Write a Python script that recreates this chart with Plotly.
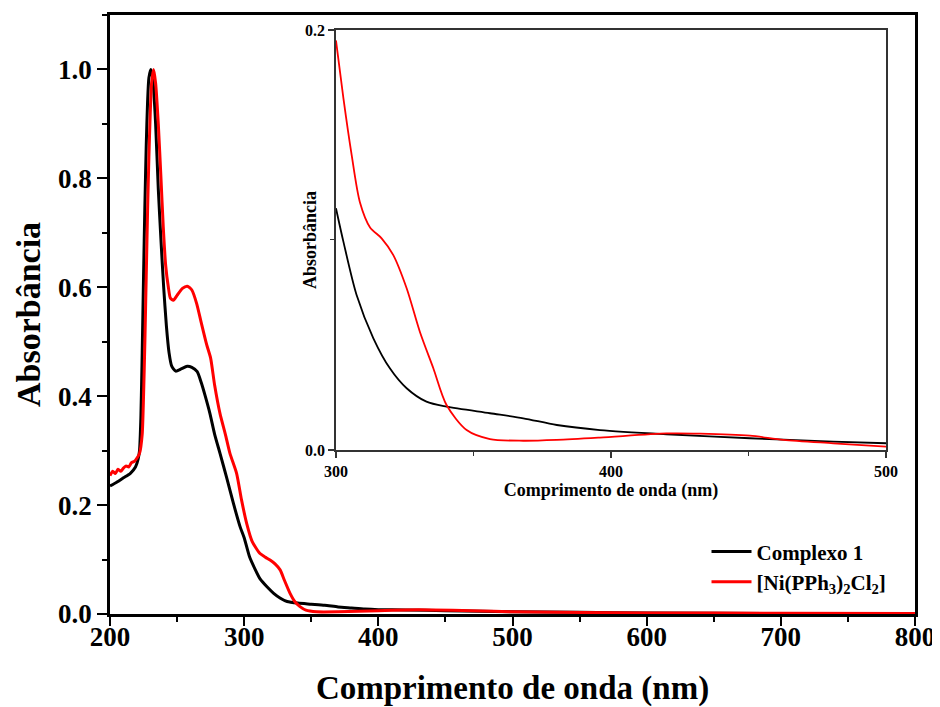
import plotly.graph_objects as go

# ---- main spectrum data ----
wl_c1 = [200, 205, 210, 215, 219, 221, 222, 223, 224, 225, 226, 227, 228, 229, 230.5, 232, 234, 236, 238, 240,
         242, 244, 246, 249, 253, 257.5, 261, 265, 268, 271, 274.5, 278, 282, 287, 292, 297, 300, 304, 308, 312,
         317, 322, 327, 332, 340, 350, 360, 370, 380, 390, 400, 420, 450, 500, 550, 600, 700, 800]
abs_c1 = [0.235, 0.242, 0.250, 0.258, 0.270, 0.285, 0.300, 0.360, 0.480, 0.620, 0.750, 0.860, 0.940, 0.985, 1.000,
          0.980, 0.900, 0.780, 0.686, 0.600, 0.530, 0.480, 0.455, 0.446, 0.450, 0.455, 0.453, 0.445, 0.425, 0.400,
          0.368, 0.330, 0.295, 0.250, 0.203, 0.160, 0.140, 0.105, 0.083, 0.064, 0.050, 0.038, 0.029, 0.023, 0.020,
          0.018, 0.016, 0.013, 0.011, 0.009, 0.008, 0.0075, 0.006, 0.004, 0.003, 0.002, 0.001, 0.001]

wl_ni = [200, 202, 204, 206, 208, 210, 212, 214, 216, 218, 220, 222, 224, 225, 226, 227, 228, 229, 230, 231,
         232.5, 234, 236, 238, 239.7, 241.5, 243.5, 245, 247.2, 250, 254, 257.6, 261, 264.6, 268, 272, 275, 278,
         282, 286, 289.4, 294.4, 298, 301.9, 306, 311.8, 316, 319.3, 323, 326.8, 330, 334.2, 338, 341.6, 346, 354,
         370, 400, 420, 440, 470, 500, 600, 700, 800]
abs_ni = [0.254, 0.262, 0.258, 0.266, 0.262, 0.268, 0.272, 0.270, 0.278, 0.280, 0.286, 0.295, 0.330, 0.400, 0.500,
          0.620, 0.740, 0.840, 0.920, 0.975, 1.000, 0.975, 0.900, 0.800, 0.711, 0.640, 0.600, 0.580, 0.576, 0.585,
          0.598, 0.602, 0.595, 0.570, 0.535, 0.495, 0.470, 0.420, 0.368, 0.330, 0.295, 0.258, 0.210, 0.166, 0.133,
          0.111, 0.104, 0.099, 0.092, 0.081, 0.062, 0.038, 0.022, 0.0135, 0.007, 0.004, 0.004, 0.006, 0.0075,
          0.0075, 0.006, 0.004, 0.002, 0.0015, 0.001]

# ---- inset data (300-500 nm) ----
wl_c1_in = [300, 302.7, 307.5, 313.6, 319.6, 325.7, 332.9, 340.2, 356, 368.1, 380.3, 396, 420.2, 450.5, 480.8, 500]
abs_c1_in = [0.1151, 0.0992, 0.0738, 0.0532, 0.0389, 0.0294, 0.0230, 0.0206, 0.0175, 0.0151, 0.0119, 0.0095,
             0.0075, 0.0056, 0.0040, 0.0032]
wl_ni_in = [300, 302.7, 305.7, 308.7, 312.4, 316.6, 320.8, 325.7, 330.5, 335.4, 340.2, 347.5, 356, 368.1, 380.3,
            396, 420.2, 432.4, 450.5, 462.7, 480.8, 500]
abs_ni_in = [0.195, 0.1675, 0.1405, 0.118, 0.106, 0.1008, 0.0929, 0.077, 0.0563, 0.0389, 0.0214, 0.0095, 0.0052,
             0.0044, 0.0048, 0.0059, 0.0079, 0.0078, 0.0068, 0.0048, 0.0032, 0.0016]

series_names = ["Complexo 1", "[Ni(PPh<sub>3</sub>)<sub>2</sub>Cl<sub>2</sub>]"]
x_title = "Comprimento de onda (nm)"
y_title = "Absorbância"

FONT = "Liberation Serif, Times New Roman, serif"
BLACK = "#000000"
RED = "#ff0000"
INSET_AX = "#333333"

fig = go.Figure()
fig.add_trace(go.Scatter(x=wl_c1, y=abs_c1, mode="lines", name=series_names[0],
                         line=dict(color=BLACK, width=3, shape="spline", smoothing=0.6)))
fig.add_trace(go.Scatter(x=wl_ni, y=abs_ni, mode="lines", name=series_names[1],
                         line=dict(color=RED, width=3, shape="spline", smoothing=0.6)))
fig.add_trace(go.Scatter(x=wl_c1_in, y=abs_c1_in, mode="lines", showlegend=False, xaxis="x2", yaxis="y2",
                         line=dict(color=BLACK, width=1.8, shape="spline", smoothing=0.8)))
fig.add_trace(go.Scatter(x=wl_ni_in, y=abs_ni_in, mode="lines", showlegend=False, xaxis="x2", yaxis="y2",
                         line=dict(color=RED, width=1.8, shape="spline", smoothing=0.8)))

bold = dict(family=FONT, color=BLACK, weight="bold")

# page body adds an 8px offset; figure sized so the plot frame lands at x 110-915, y 15-614 in the window
fig.update_layout(
    width=932, height=699,
    margin=dict(l=102, r=25, t=7, b=93, autoexpand=False),
    paper_bgcolor="white", plot_bgcolor="white",
    font=dict(family=FONT, color=BLACK),
    showlegend=True,
    legend=dict(x=0.741, xanchor="left", y=0.138, yanchor="top",
                bgcolor="rgba(0,0,0,0)", font=dict(size=21, **bold),
                itemwidth=40, tracegroupgap=0),
    xaxis=dict(domain=[0, 1], range=[200, 800], dtick=100, tick0=200, automargin=True,
               showgrid=False, zeroline=False, showline=True, linecolor=BLACK, linewidth=2.5,
               mirror=True, ticks="outside", ticklen=9, tickwidth=2, tickcolor=BLACK,
               minor=dict(dtick=50, ticks="outside", ticklen=5, tickwidth=1.5, tickcolor=BLACK),
               tickfont=dict(size=27, **bold), layer="below traces", ticklabelstandoff=-12,
               title=dict(text=x_title, font=dict(size=33, **bold), standoff=25)),
    yaxis=dict(domain=[0, 1], range=[0, 1.1], dtick=0.2, tick0=0, tickformat=".1f", automargin=True,
               showgrid=False, zeroline=False, showline=True, linecolor=BLACK, linewidth=2.5,
               mirror=True, ticks="outside", ticklen=10, tickwidth=2, tickcolor=BLACK,
               minor=dict(dtick=0.1, ticks="outside", ticklen=5, tickwidth=1.5, tickcolor=BLACK),
               tickfont=dict(size=27, **bold), layer="below traces",
               title=dict(text=y_title, font=dict(size=34, **bold), standoff=8)),
    xaxis2=dict(domain=[0.2807, 0.964], anchor="y2", range=[300, 500], dtick=100, tick0=300, automargin=True,
                showgrid=False, zeroline=False, showline=True, linecolor=INSET_AX, linewidth=1.5,
                mirror=True, ticks="outside", ticklen=6, tickwidth=1.5, tickcolor=INSET_AX,
                minor=dict(dtick=50, ticks="outside", ticklen=4, tickwidth=1, tickcolor=INSET_AX),
                tickfont=dict(size=16, **bold),
                title=dict(text=x_title, font=dict(size=18, **bold), standoff=4)),
    yaxis2=dict(domain=[0.2738, 0.975], anchor="x2", range=[0, 0.2], dtick=0.2, tick0=0, tickformat=".1f",
                automargin=False,
                showgrid=False, zeroline=False, showline=True, linecolor=INSET_AX, linewidth=1.5,
                mirror=True, ticks="outside", ticklen=6, tickwidth=1.5, tickcolor=INSET_AX,
                minor=dict(dtick=0.1, ticks="outside", ticklen=4, tickwidth=1, tickcolor=INSET_AX),
                tickfont=dict(size=16, **bold)),
    annotations=[dict(text=y_title, textangle=-90, xref="paper", yref="paper",
                      x=(310 - 110) / 805, y=(614 - 240) / 599, xanchor="center", yanchor="middle",
                      showarrow=False, font=dict(size=18, **bold))],
)

fig.write_html("out.html")
